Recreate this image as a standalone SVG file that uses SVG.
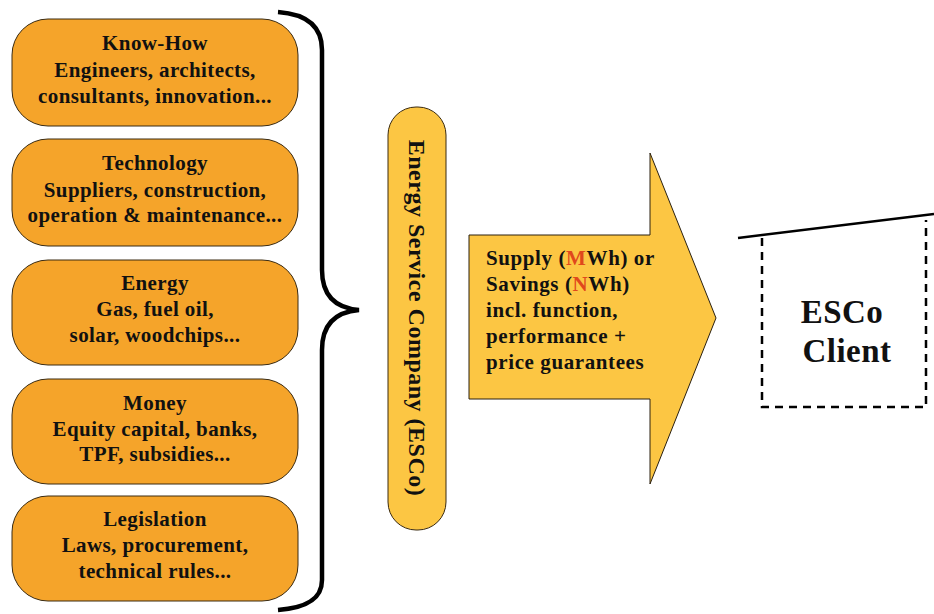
<svg xmlns="http://www.w3.org/2000/svg" width="934" height="614" viewBox="0 0 934 614">
<style>
.box{fill:#F5A42A;stroke:#3a2a10;stroke-width:1}
.t{font-family:"Liberation Serif","DejaVu Serif",serif;font-weight:bold;font-size:21px;letter-spacing:0.4px;fill:#111;text-anchor:middle}
.a{font-family:"Liberation Serif","DejaVu Serif",serif;font-weight:bold;font-size:21px;letter-spacing:0.6px;fill:#111}
.v{font-family:"Liberation Serif","DejaVu Serif",serif;font-weight:bold;font-size:24px;letter-spacing:0.5px;fill:#111;text-anchor:middle}
.c{font-family:"Liberation Serif","DejaVu Serif",serif;font-weight:bold;font-size:33px;letter-spacing:0.5px;fill:#111;text-anchor:middle}
.r{fill:#E0481C}
</style>
<rect width="934" height="614" fill="#fff"/>
<g id="knowhow"><rect class="box" x="12" y="19" width="286" height="107" rx="36"/>
<text class="t" x="155" y="50">Know-How</text><text class="t" x="155" y="77">Engineers, architects,</text><text class="t" x="155" y="103">consultants, innovation...</text></g>
<g id="technology"><rect class="box" x="12" y="139" width="286" height="107" rx="36"/>
<text class="t" x="155" y="170">Technology</text><text class="t" x="155" y="197">Suppliers, construction,</text><text class="t" x="155" y="222">operation &amp; maintenance...</text></g>
<g id="energy"><rect class="box" x="12" y="260" width="286" height="105" rx="36"/>
<text class="t" x="155" y="290">Energy</text><text class="t" x="155" y="316">Gas, fuel oil,</text><text class="t" x="155" y="342">solar, woodchips...</text></g>
<g id="money"><rect class="box" x="12" y="379" width="286" height="105" rx="36"/>
<text class="t" x="155" y="410">Money</text><text class="t" x="155" y="436">Equity capital, banks,</text><text class="t" x="155" y="461">TPF, subsidies...</text></g>
<g id="legislation"><rect class="box" x="12" y="496" width="286" height="105" rx="36"/>
<text class="t" x="155" y="526">Legislation</text><text class="t" x="155" y="552">Laws, procurement,</text><text class="t" x="155" y="578">technical rules...</text></g>
<g id="connectors">
<path d="M278 12 C305 14 322 25 322 50 L322 270 C322 295 335 308 359 310 C335 312 322 325 322 350 L322 580 C322 600 305 608 278 610" fill="none" stroke="#000" stroke-width="4.5"/>
</g>
<g id="esco"><rect x="388" y="107" width="58" height="423" rx="28" fill="#FCC643" stroke="#3a2a10" stroke-width="1"/>
<text class="v" transform="translate(409 318) rotate(90)">Energy Service Company (ESCo)</text></g>
<g id="arrow"><path d="M469 235 L650 235 L650 153 L716 318 L650 484 L650 399 L469 399 Z" fill="#FCC643" stroke="#2a2010" stroke-width="1"/>
<text class="a" x="486" y="265">Supply (<tspan class="r">M</tspan>Wh) or</text>
<text class="a" x="486" y="291">Savings (<tspan class="r">N</tspan>Wh)</text>
<text class="a" x="486" y="317">incl. function,</text>
<text class="a" x="486" y="343">performance +</text>
<text class="a" x="486" y="369">price guarantees</text></g>
<g id="client">
<path d="M762 238 L762 407 L926 407 L926 220" fill="none" stroke="#000" stroke-width="2.5" stroke-dasharray="8 6"/>
<line x1="738" y1="238" x2="934" y2="214" stroke="#000" stroke-width="2.5"/>
<text class="c" x="842" y="323">ESCo</text>
<text class="c" x="847" y="362">Client</text></g>
</svg>
